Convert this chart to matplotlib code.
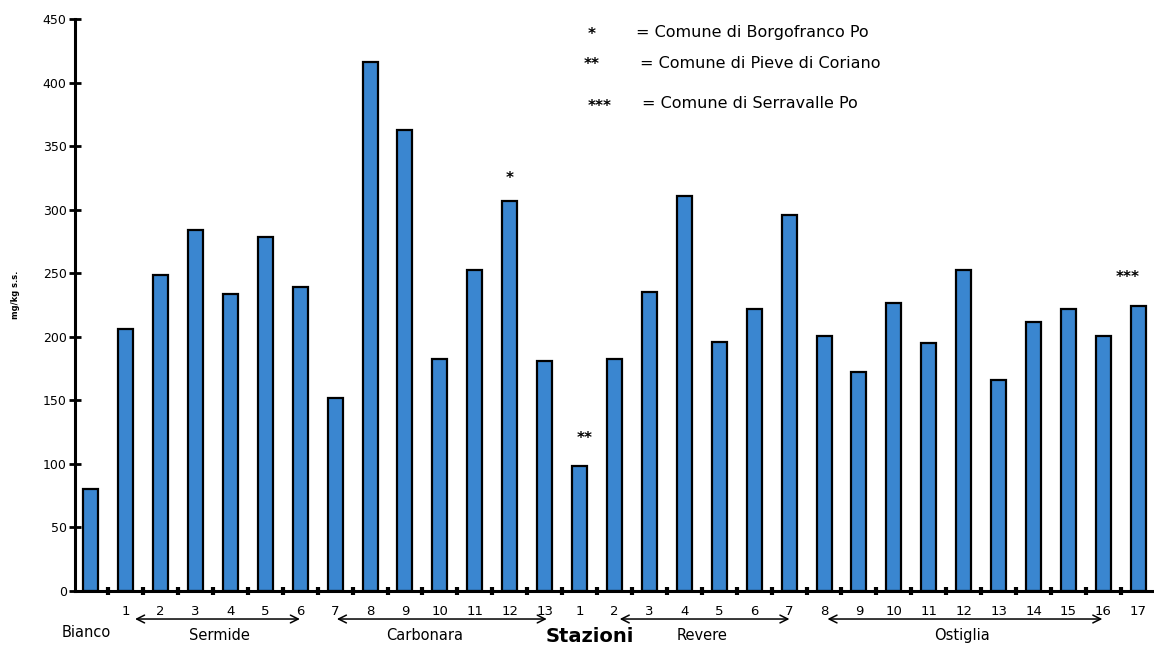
import matplotlib
matplotlib.use("Agg")
import matplotlib.pyplot as plt
from matplotlib.ticker import FixedLocator

plt.rcParams['font.family'] = ['DejaVu Sans']

# ---- data ----
tick_labels = ["", "1", "2", "3", "4", "5", "6", "7", "8", "9", "10", "11", "12", "13",
               "1", "2", "3", "4", "5", "6", "7", "8", "9", "10", "11", "12", "13",
               "14", "15", "16", "17"]
values = [80, 206, 249, 284, 234, 279, 239, 152, 416, 363, 183, 253, 307, 181,
          98, 183, 235, 311, 196, 222, 296, 201, 172, 227, 195, 253, 166,
          212, 222, 201, 224]
groups = ["Bianco", "Sermide", "Carbonara", "Revere", "Ostiglia"]
group_label_x = [-0.13, 3.68, 9.57, 17.5, 24.94]          # station units
group_arrows = [None, (1.27, 5.99), (7.05, 13.06), (15.15, 20.01), (21.10, 28.97)]
marks = ["*", "**", "***"]
mark_bars = [12, 14, 30]
legend_text = ["= Comune di Borgofranco Po",
               "= Comune di Pieve di Coriano",
               "= Comune di Serravalle Po"]
yticks = [0, 50, 100, 150, 200, 250, 300, 350, 400, 450]

W, H = 1154, 646
fig = plt.figure(figsize=(W / 100, H / 100), dpi=100)
ax = fig.add_axes([75 / W, 1 - 591 / H, 1 - 75 / W, (591 - 19.3) / H])

x = list(range(len(values)))
ax.bar(x, values, width=0.43, color="#3a86d0", edgecolor="black", linewidth=1.6, zorder=2)

ax.set_xlim(-0.45, 30.45)
ax.set_ylim(0, 450)
ax.set_yticks(yticks)
ax.set_yticklabels([str(v) for v in yticks], fontsize=9)
ax.tick_params(axis='y', direction='inout', length=8, width=2, pad=2)

ax.set_xticks(x)
ax.set_xticklabels(tick_labels, fontsize=9.5)
ax.tick_params(axis='x', which='major', length=0, pad=10)
ax.xaxis.set_minor_locator(FixedLocator([i + 0.5 for i in range(len(values))]))
ax.tick_params(axis='x', which='minor', direction='inout', length=6, width=3)

for s in ["top", "right"]:
    ax.spines[s].set_visible(False)
ax.spines["left"].set_linewidth(2.2)
ax.spines["bottom"].set_linewidth(2.2)

# star marks above bars
mark_offsets = [(0, 16), (4, 20), (-8, 21)]
for m, i, off in zip(marks, mark_bars, mark_offsets):
    ax.annotate(m, (i, values[i]), xytext=off, textcoords="offset points",
                ha="center", va="center", fontsize=11, fontweight="bold")

# group labels and arrows
tr = ax.get_xaxis_transform()
for name, lx, arr in zip(groups, group_label_x, group_arrows):
    ly = -0.073 if arr is None else -0.078
    ax.text(lx, ly, name, transform=tr, ha="center", va="center",
            fontsize=10.5, clip_on=False)
    if arr is not None:
        ax.annotate("", xy=(arr[1], -0.049), xytext=(arr[0], -0.049),
                    xycoords=tr, textcoords=tr,
                    arrowprops=dict(arrowstyle="<->", lw=1.1, color="black",
                                    mutation_scale=14, shrinkA=0, shrinkB=0))

fig.text(590 / W, 1 - 637 / H, "Stazioni", ha="center", va="center",
         fontsize=14, fontweight="bold")
fig.text(15 / W, 1 - 295 / H, "mg/kg s.s.", rotation=90, ha="center", va="center",
         fontsize=6, fontweight="bold")

# legend of marks
ys = [32, 63, 104]
xs_mark = [592, 592, 600]
xs_text = [636, 640, 642]
for m, t, yy, xm, xt in zip(marks, legend_text, ys, xs_mark, xs_text):
    fig.text(xm / W, 1 - (yy + 2) / H, m, ha="center", va="center", fontsize=11,
             fontweight="bold")
    fig.text(xt / W, 1 - yy / H, t, ha="left", va="center", fontsize=11.5)

fig.savefig("out.png", dpi=100)
